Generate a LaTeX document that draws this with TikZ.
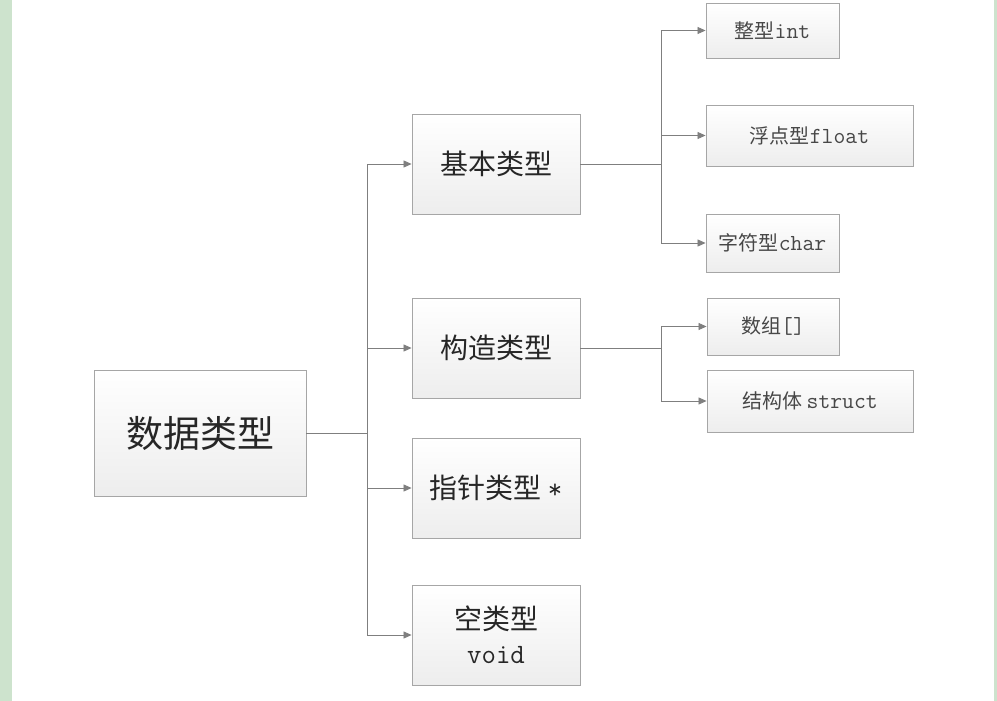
\documentclass[tikz,border=0pt]{standalone}
\usepackage{fontspec}
\setmainfont{Noto Sans CJK SC}
\setmonofont{Latin Modern Mono}
\usetikzlibrary{arrows.meta}

\definecolor{boxline}{HTML}{A6A6A6}
\definecolor{linkgray}{HTML}{7F7F7F}
\definecolor{sidegreen}{HTML}{CDE3CD}

% Latin part of the labels
\newcommand{\code}[1]{{\ttfamily #1}}

\tikzset{
	typebox/.style={draw=boxline, line width=0.9pt, top color=white,
		bottom color=black!7, inner sep=0pt, align=center, text=black!85},
	bigbox/.style={typebox, minimum width=168pt, minimum height=100pt,
		font=\fontsize{28}{34}\selectfont},
	leafbox/.style={typebox, text=black!72, font=\fontsize{20}{24}\selectfont},
	link/.style={draw=linkgray, line width=0.8pt},
	linkarrow/.style={link, -{Triangle[length=8pt,width=7pt]}}
}

\begin{document}
\begin{tikzpicture}[x=1pt, y=-1pt]
	% =========================
	% Page and side strips
	% =========================
	\useasboundingbox (0,0) rectangle (997,701);
	\fill[white] (0,0) rectangle (997,701);
	\fill[sidegreen] (0,0) rectangle (12,701);
	\fill[sidegreen] (994,0) rectangle (997,701);

	% --------------------------------
	% Root box
	% --------------------------------
	\node[typebox, minimum width=212pt, minimum height=126pt,
		font=\fontsize{37}{40}\selectfont] (data) at (200,433) {数据类型};

	% --------------------------------
	% Second level
	% --------------------------------
	\node[bigbox] (basic) at (496,164) {基本类型};
	\node[bigbox] (build) at (496,348) {构造类型};
	\node[bigbox] (pointer) at (496,488) {指针类型 \code{*}};
	\node[bigbox] (void) at (496,635) {空类型\\\code{void}};

	% --------------------------------
	% Leaves
	% --------------------------------
	\node[leafbox, minimum width=133pt, minimum height=55pt] (int) at (772.5,30.5)
		{整型\code{\fontsize{23}{24}\selectfont int}};
	\node[leafbox, minimum width=207pt, minimum height=61pt] (float) at (809.5,135.5)
		{浮点型\code{\fontsize{23}{24}\selectfont float}};
	\node[leafbox, minimum width=133pt, minimum height=58pt] (char) at (772.5,243)
		{字符型\code{\fontsize{23}{24}\selectfont char}};
	\node[leafbox, minimum width=132pt, minimum height=57pt] (array) at (773,326.5)
		{数组\code{\fontsize{23}{24}\selectfont []}};
	\node[leafbox, minimum width=206pt, minimum height=62pt] (struct) at (810,401)
		{结构体 \code{\fontsize{23}{24}\selectfont struct}};

	% --------------------------------
	% Connectors
	% --------------------------------
	\coordinate (hub) at (367,433);
	\coordinate (hubbasic) at (661,164);
	\coordinate (hubbuild) at (661,348);

	\draw[link] (data.east) -- (hub);
	\foreach \child in {basic,build,pointer,void}
	{
		\draw[linkarrow] (hub) |- (\child.west);
	}

	\draw[link] (basic.east) -- (hubbasic);
	\foreach \child in {int,float,char}
	{
		\draw[linkarrow] (hubbasic) |- (\child.west);
	}

	\draw[link] (build.east) -- (hubbuild);
	\foreach \child in {array,struct}
	{
		\draw[linkarrow] (hubbuild) |- (\child.west);
	}
\end{tikzpicture}
\end{document}
